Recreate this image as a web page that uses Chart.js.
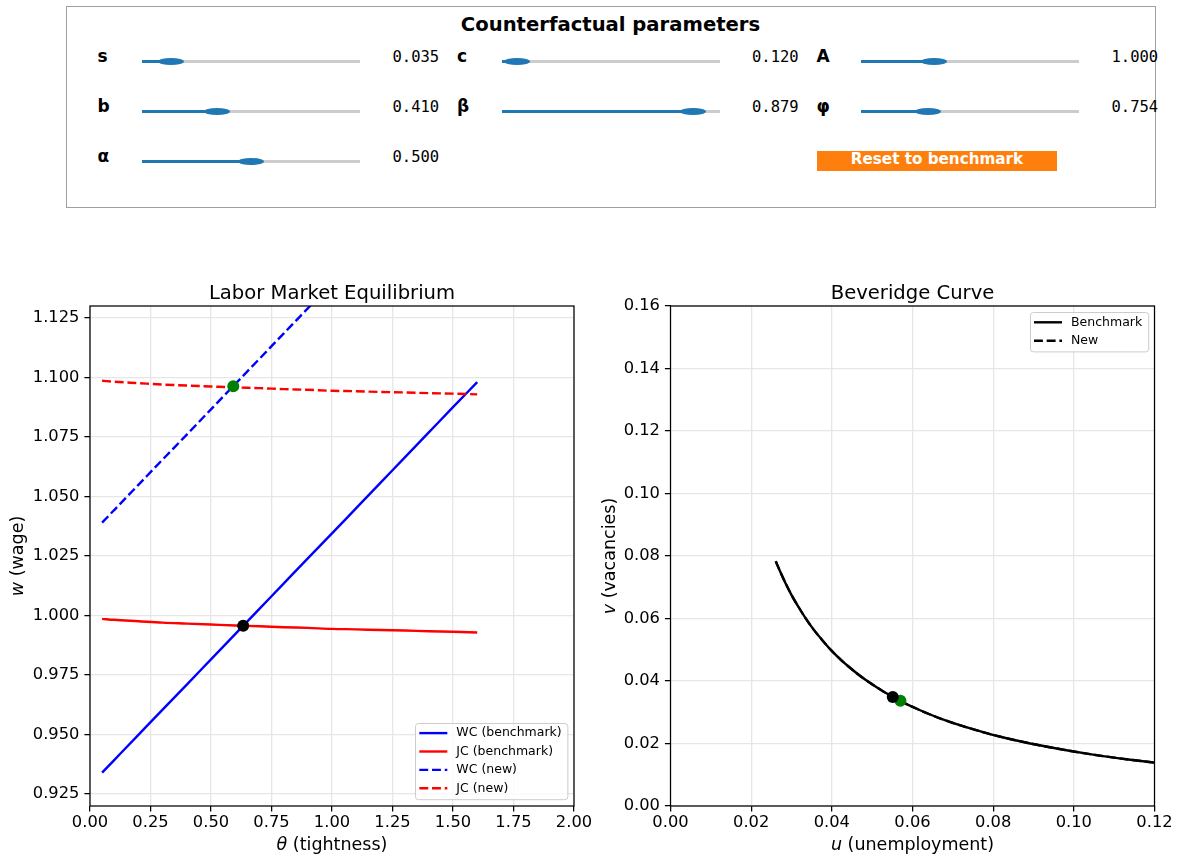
<!DOCTYPE html>
<html>
<head>
<meta charset="utf-8">
<script src="https://cdn.jsdelivr.net/npm/chart.js@4.4.1/dist/chart.umd.min.js"></script>
<style>
  body { margin: 0; background: #fff; width: 1178px; height: 856px; position: relative; overflow: hidden; font-family: 'DejaVu Sans'; }
  .abs { position: absolute; white-space: nowrap; }
  #panel { position: absolute; left: 66px; top: 6px; width: 1090px; height: 202px; box-sizing: border-box; border: 1px solid #a0a0a0; }
  canvas { position: absolute; }
</style>
</head>
<body>
<div id="panel"></div>
<div id="controls"></div>
<canvas id="labor" width="600" height="594" style="left:0;top:262px;width:600px;height:594px"></canvas>
<canvas id="bev" width="578" height="594" style="left:600px;top:262px;width:578px;height:594px"></canvas>
<script>
// --- slider panel values ---
const paramNames  = ['s', 'c', 'A', 'b', 'β', 'φ', 'α'];
const paramValues = [0.035, 0.120, 1.000, 0.410, 0.879, 0.754, 0.500];
const paramMin    = [0.01, 0.05, 0.5, 0.1, 0.0, 0.2, 0.0];
const paramMax    = [0.20, 1.05, 2.0, 1.0, 1.0, 2.0, 1.0];

// --- labor market: WC / JC curves over theta ---
const thetaGrid = [0.05, 0.1, 0.2, 0.3, 0.4, 0.5, 0.6, 0.7, 0.8, 0.9, 1.0, 1.1, 1.2, 1.3, 1.4, 1.5, 1.6];
const wcBench = [0.9340, 0.9393, 0.9499, 0.9605, 0.9710, 0.9816, 0.9922, 1.0028, 1.0134, 1.0240, 1.0345, 1.0451, 1.0557, 1.0663, 1.0769, 1.0875, 1.0980];
const jcBench = [0.9986, 0.9982, 0.9976, 0.9970, 0.9966, 0.9962, 0.9958, 0.9955, 0.9951, 0.9948, 0.9944, 0.9942, 0.9939, 0.9937, 0.9934, 0.9932, 0.9929];
const wcNew   = [1.0390, 1.0443, 1.0549, 1.0655, 1.0760, 1.0866, 1.0972, 1.1078, 1.1184, 1.1290, 1.1395, 1.1501, 1.1607, 1.1713, 1.1819, 1.1925, 1.2030];
const jcNew   = [1.0986, 1.0982, 1.0976, 1.0970, 1.0966, 1.0962, 1.0958, 1.0955, 1.0951, 1.0948, 1.0944, 1.0942, 1.0939, 1.0937, 1.0934, 1.0932, 1.0929];
const eqTheta = [0.633, 0.592];   // benchmark, new
const eqWage  = [0.9957, 1.0963];

// --- Beveridge curve ---
const bevU = [0.02610, 0.02699, 0.02852, 0.03002, 0.03178, 0.03344, 0.03540, 0.03775, 0.03986, 0.04238, 0.04436, 0.04665, 0.04934, 0.05257, 0.05513, 0.05654, 0.0616, 0.06837, 0.07813, 0.08495, 0.09404, 0.1040, 0.1140, 0.1228, 0.1280];
const bevV = [0.0783, 0.0756, 0.0713, 0.0675, 0.0636, 0.0602, 0.0566, 0.0529, 0.0498, 0.0466, 0.0444, 0.0420, 0.0395, 0.0368, 0.0349, 0.0339, 0.0308, 0.0273, 0.0234, 0.0212, 0.0188, 0.0166, 0.0148, 0.0135, 0.0128];
const bevEqU = [0.0551, 0.0570];
const bevEqV = [0.0349, 0.0337];

// --- tick labels ---
const laborXTicks = [0, 0.25, 0.5, 0.75, 1.0, 1.25, 1.5, 1.75, 2.0];
const laborYTicks = [0.925, 0.95, 0.975, 1.0, 1.025, 1.05, 1.075, 1.1, 1.125];
const bevXTicks = [0, 0.02, 0.04, 0.06, 0.08, 0.10, 0.12];
const bevYTicks = [0, 0.02, 0.04, 0.06, 0.08, 0.10, 0.12, 0.14, 0.16];

// ---------- panel ----------
const controls = document.getElementById('controls');
function addText(txt, x, baseline, fs, css, align) {
  const H = Math.round(fs * 1.3);
  const el = document.createElement('div');
  el.className = 'abs';
  el.textContent = txt;
  el.style.cssText += css + ';font-size:' + fs + 'px;line-height:' + H + 'px;height:' + H + 'px';
  el.style.top = (baseline - H / 2 - 0.346 * fs) + 'px';
  if (align === 'center') { el.style.left = (x - 300) + 'px'; el.style.width = '600px'; el.style.textAlign = 'center'; }
  else el.style.left = x + 'px';
  controls.appendChild(el);
  return el;
}
function addBox(x, y, w, h, css) {
  const el = document.createElement('div');
  el.className = 'abs';
  el.style.cssText += 'left:' + x + 'px;top:' + y + 'px;width:' + w + 'px;height:' + h + 'px;' + css;
  controls.appendChild(el);
}

addText('Counterfactual parameters', 610.5, 31.5, 19.6, 'font-weight:bold;color:#000', 'center');

const trackW = 218;
paramNames.forEach((name, i) => {
  const col = i % 3, row = Math.floor(i / 3);
  const ty = 61 + row * 50;
  const tx = 142 + col * 359.5;
  addText(name, 97.5 + col * 359.5, ty + 0.5, 17, 'font-weight:bold;color:#000');
  addText(paramValues[i].toFixed(3), 392.5 + col * 359.5, ty + 1.5, 15.5, "font-family:'DejaVu Sans Mono';color:#000");
  const frac = (paramValues[i] - paramMin[i]) / (paramMax[i] - paramMin[i]);
  const hx = tx + frac * trackW;
  addBox(tx, ty - 1.5, trackW, 3, 'background:#cccccc');
  addBox(tx, ty - 1.5, hx - tx, 3, 'background:#1f77b4');
  addBox(hx - 13, ty - 3.5, 26, 7, 'background:#1f77b4;border-radius:50%');
});
addBox(817, 151, 240, 20, 'background:#ff7f0e');
addText('Reset to benchmark', 937, 164.7, 15.2, 'font-weight:bold;color:#fff', 'center');

// ---------- charts ----------
Chart.defaults.font.family = "'DejaVu Sans'";
Chart.defaults.color = '#000';

const labelFont = 17.5;
function drawMixed(ctx, v, rest, cx, y) {
  ctx.font = 'italic ' + labelFont + 'px "DejaVu Sans"';
  const w1 = ctx.measureText(v).width;
  ctx.font = labelFont + 'px "DejaVu Sans"';
  const w2 = ctx.measureText(rest).width;
  const x = cx - (w1 + w2) / 2;
  ctx.textAlign = 'left';
  ctx.textBaseline = 'alphabetic';
  ctx.font = 'italic ' + labelFont + 'px "DejaVu Sans"';
  ctx.fillText(v, x, y);
  ctx.font = labelFont + 'px "DejaVu Sans"';
  ctx.fillText(rest, x + w1, y);
}

const decor = {
  id: 'decor',
  afterDraw(chart, args, o) {
    const { ctx, chartArea: a } = chart;
    const cx = (a.left + a.right) / 2;
    ctx.save();
    ctx.strokeStyle = '#000';
    ctx.lineWidth = 1.25;
    ctx.strokeRect(a.left, a.top, a.right - a.left, a.bottom - a.top);
    ctx.fillStyle = '#000';
    ctx.font = '19.6px "DejaVu Sans"';
    ctx.textAlign = 'center';
    ctx.textBaseline = 'alphabetic';
    ctx.fillText(o.title, cx, o.titleY);
    drawMixed(ctx, o.xVar, o.xRest, cx, o.xTitleY);
    ctx.save();
    ctx.translate(o.yTitleX, (a.top + a.bottom) / 2);
    ctx.rotate(-Math.PI / 2);
    drawMixed(ctx, o.yVar, o.yRest, 0, 0);
    ctx.restore();

    // legend inside the axes
    const items = chart.data.datasets.filter(d => d.showLine);
    ctx.font = '12.5px "DejaVu Sans"';
    const textW = Math.max(...items.map(d => ctx.measureText(d.label).width));
    const rowH = 18.4, padL = 4, sampleW = 28, gap = 9, padR = 6, padT = 10, padB = 11;
    const w = padL + sampleW + gap + textW + padR;
    const h = padT + rowH * (items.length - 1) + padB;
    const x0 = a.right - 6.3 - w;
    const y0 = o.legendCorner === 'br' ? a.bottom - 6.7 - h : a.top + 6.3;
    ctx.beginPath();
    ctx.roundRect(Math.round(x0) + 0.5, Math.round(y0) + 0.5, w, h, 3);
    ctx.fillStyle = 'rgba(255,255,255,0.8)';
    ctx.fill();
    ctx.strokeStyle = '#cccccc';
    ctx.lineWidth = 1;
    ctx.stroke();
    items.forEach((d, i) => {
      const y = y0 + padT + i * rowH;
      ctx.beginPath();
      ctx.setLineDash(d.borderDash || []);
      ctx.strokeStyle = d.borderColor;
      ctx.lineWidth = d.borderWidth;
      ctx.moveTo(x0 + padL, y);
      ctx.lineTo(x0 + padL + sampleW, y);
      ctx.stroke();
      ctx.setLineDash([]);
      ctx.fillStyle = '#000';
      ctx.textAlign = 'left';
      ctx.textBaseline = 'middle';
      ctx.fillText(d.label, x0 + padL + sampleW + gap, y);
    });
    ctx.restore();
  }
};

const dashed = [8.9, 3.8];
function pts(xs, ys) { return xs.map((x, i) => ({ x: x, y: ys[i] })); }
function lineSet(label, xs, ys, color, dash, order) {
  return { label, data: pts(xs, ys), showLine: true, borderColor: color, borderWidth: 2.4,
           borderDash: dash, pointRadius: 0, cubicInterpolationMode: 'monotone', order };
}
function dotSet(x, y, color) {
  return { label: '', data: [{ x, y }], showLine: false, pointRadius: 6, pointBackgroundColor: color,
           pointBorderWidth: 0, order: 0 };
}
function axis(ticks, min, max, digits, size, horizontal) {
  return {
    type: 'linear', min, max,
    afterBuildTicks: s => { s.ticks = ticks.map(v => ({ value: v })); },
    afterFit: s => { if (horizontal) s.height = size; else s.width = size; },
    ticks: { autoSkip: false, maxRotation: 0, padding: horizontal ? 1.5 : 5, font: { size: 16.3 }, color: '#000',
             callback: v => Number(v).toFixed(digits) },
    grid: { color: '#e6e6e6', lineWidth: 1.28, tickColor: '#000', tickLength: 5.6, tickWidth: 1.25 },
    border: { display: false }
  };
}

new Chart(document.getElementById('labor'), {
  type: 'scatter',
  data: {
    datasets: [
      lineSet('WC (benchmark)', thetaGrid, wcBench, '#0000ff', [], 4),
      lineSet('JC (benchmark)', thetaGrid, jcBench, '#ff0000', [], 3),
      lineSet('WC (new)', thetaGrid, wcNew, '#0000ff', dashed, 2),
      lineSet('JC (new)', thetaGrid, jcNew, '#ff0000', dashed, 1),
      dotSet(eqTheta[0], eqWage[0], '#000000'),
      dotSet(eqTheta[1], eqWage[1], '#008000')
    ]
  },
  options: {
    responsive: false, animation: false, events: [],
    layout: { padding: { left: 0, right: 26, top: 44, bottom: 0 } },
    plugins: {
      legend: { display: false }, tooltip: { enabled: false }, title: { display: false },
      decor: { title: 'Labor Market Equilibrium', titleY: 36.5, xVar: 'θ', xRest: ' (tightness)', xTitleY: 588,
               yVar: 'w', yRest: ' (wage)', yTitleX: 22.5, legendCorner: 'br' }
    },
    scales: {
      x: axis(laborXTicks, 0, 2, 2, 50, true),
      y: axis(laborYTicks, 0.92, 1.13, 3, 90, false)
    }
  },
  plugins: [decor]
});

new Chart(document.getElementById('bev'), {
  type: 'scatter',
  data: {
    datasets: [
      lineSet('Benchmark', bevU, bevV, '#000000', [], 2),
      lineSet('New', bevU, bevV, '#000000', dashed, 1),
      dotSet(bevEqU[0], bevEqV[0], '#000000'),
      dotSet(bevEqU[1], bevEqV[1], '#008000')
    ]
  },
  options: {
    responsive: false, animation: false, events: [],
    layout: { padding: { left: 0, right: 23.5, top: 44, bottom: 0 } },
    plugins: {
      legend: { display: false }, tooltip: { enabled: false }, title: { display: false },
      decor: { title: 'Beveridge Curve', titleY: 36.5, xVar: 'u', xRest: ' (unemployment)', xTitleY: 588,
               yVar: 'v', yRest: ' (vacancies)', yTitleX: 14.5, legendCorner: 'tr' }
    },
    scales: {
      x: axis(bevXTicks, 0, 0.12, 2, 50, true),
      y: axis(bevYTicks, 0, 0.16, 2, 70.5, false)
    }
  },
  plugins: [decor]
});
</script>
</body>
</html>
